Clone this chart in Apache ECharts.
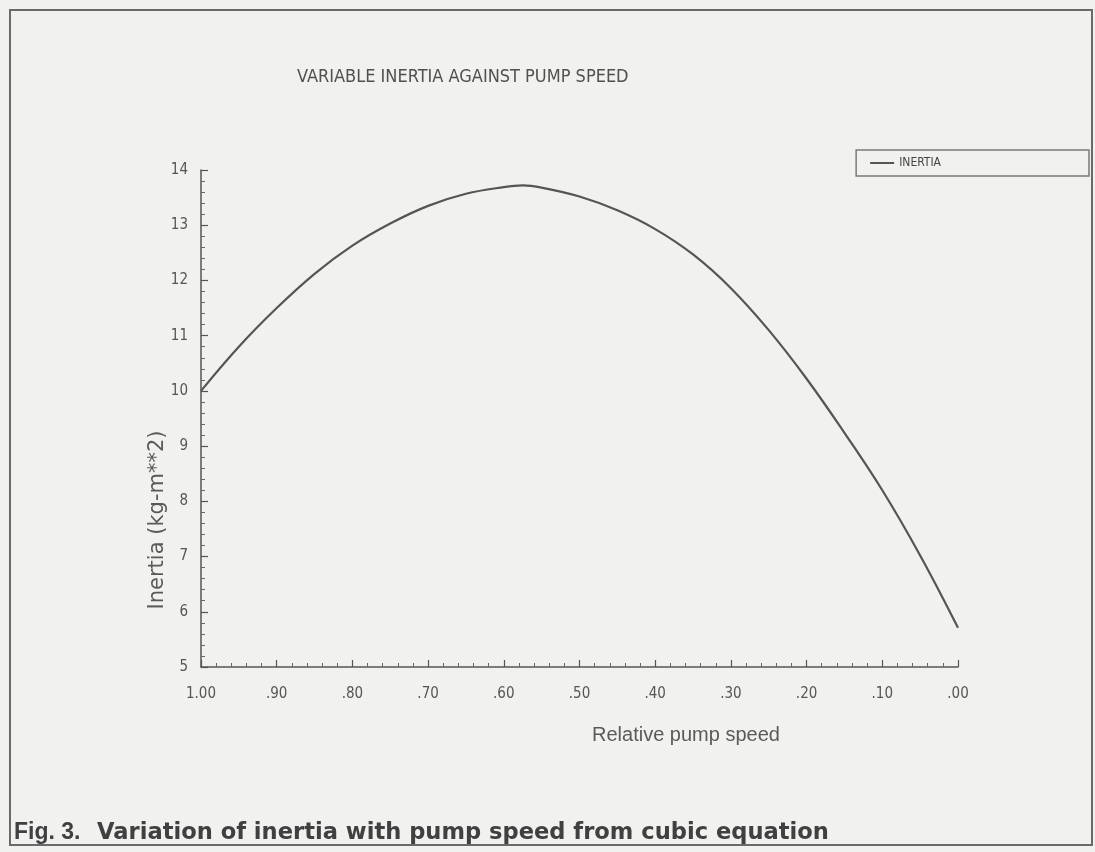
<!DOCTYPE html>
<html>
<head>
<meta charset="utf-8">
<script src="https://cdn.jsdelivr.net/npm/echarts@6/dist/echarts.min.js"></script>
<style>
  html, body { margin: 0; padding: 0; background: #f1f1ef; }
  #chart { width: 1095px; height: 852px; }
</style>
</head>
<body>
<div id="chart"></div>
<script>
// Relative pump speed (x) and inertia (kg-m**2)
const speed   = [1.00, 0.95, 0.90, 0.85, 0.80, 0.75, 0.70, 0.65, 0.60, 0.575, 0.55, 0.50, 0.45, 0.40, 0.35, 0.30, 0.25, 0.20, 0.15, 0.10, 0.05, 0.00];
const inertia = [10.00, 10.80, 11.50, 12.12, 12.63, 13.03, 13.35, 13.57, 13.69, 13.72, 13.68, 13.52, 13.27, 12.93, 12.47, 11.86, 11.10, 10.22, 9.24, 8.20, 7.02, 5.71];
const xTickLabels = {'1.00':'1.00','0.90':'.90','0.80':'.80','0.70':'.70','0.60':'.60','0.50':'.50','0.40':'.40','0.30':'.30','0.20':'.20','0.10':'.10','0.00':'.00'};
const yTicks = [5, 6, 7, 8, 9, 10, 11, 12, 13, 14];

const chart = echarts.init(document.getElementById('chart'));
const narrow = '"Liberation Sans Narrow", "DejaVu Sans Condensed", "Liberation Sans", sans-serif';

const seriesData = speed.map((s, i) => [s, inertia[i]]);

chart.setOption({
  backgroundColor: '#f1f1ef',
  animation: false,
  title: {
    text: 'VARIABLE INERTIA AGAINST PUMP SPEED',
    left: 292,
    top: 63,
    textStyle: { fontFamily: narrow, fontSize: 18, fontWeight: 'normal', color: '#505050' }
  },
  legend: {
    data: ['INERTIA'],
    right: 6,
    top: 150,
    orient: 'horizontal',
    itemWidth: 24,
    itemHeight: 2,
    itemGap: 4,
    icon: 'rect',
    padding: [7, 148, 7, 14],
    borderColor: '#7a7a7a',
    borderWidth: 1.5,
    borderRadius: 0,
    textStyle: { fontFamily: narrow, fontSize: 12, color: '#444' }
  },
  grid: { left: 201, right: 137, top: 170, bottom: 185, containLabel: false },
  xAxis: {
    type: 'value',
    inverse: true,
    min: 0,
    max: 1,
    interval: 0.1,
    axisLine: { show: true, onZero: false, lineStyle: { color: '#555', width: 1.5 } },
    axisTick: { show: true, inside: true, length: 7, lineStyle: { color: '#555', width: 1.2 } },
    minorTick: { show: true, splitNumber: 5, length: 4, lineStyle: { color: '#666', width: 1 } },
    splitLine: { show: false },
    axisLabel: {
      margin: 20,
      fontFamily: narrow,
      fontSize: 15,
      color: '#555',
      formatter: v => xTickLabels[v.toFixed(2)]
    }
  },
  yAxis: {
    type: 'value',
    position: 'left',
    min: yTicks[0],
    max: yTicks[yTicks.length - 1],
    interval: 1,
    axisLine: { show: true, onZero: false, lineStyle: { color: '#555', width: 1.5 } },
    axisTick: { show: true, inside: true, length: 7, lineStyle: { color: '#555', width: 1.2 } },
    minorTick: { show: true, splitNumber: 5, length: 4, lineStyle: { color: '#666', width: 1 } },
    splitLine: { show: false },
    axisLabel: { margin: 13, fontFamily: narrow, fontSize: 15, color: '#555' }
  },
  series: [{
    name: 'INERTIA',
    type: 'line',
    data: seriesData,
    smooth: 0.4,
    showSymbol: false,
    lineStyle: { color: '#555', width: 2.2 },
    itemStyle: { color: '#555' }
  }],
  graphic: [
    {
      type: 'rect',
      shape: { x: 10, y: 10, width: 1082, height: 835 },
      style: { fill: 'none', stroke: '#6a6a6a', lineWidth: 2 },
      silent: true
    },
    {
      type: 'text',
      x: 158, y: 520,
      rotation: Math.PI / 2,
      style: {
        text: 'Inertia (kg-m**2)',
        font: '21px "DejaVu Sans", sans-serif',
        fill: '#5a5a5a',
        align: 'center',
        verticalAlign: 'middle'
      },
      silent: true
    },
    {
      type: 'text',
      x: 686, y: 735,
      style: {
        text: 'Relative pump speed',
        font: '20px "Liberation Sans", sans-serif',
        fill: '#5a5a5a',
        align: 'center',
        verticalAlign: 'middle'
      },
      silent: true
    },
    {
      type: 'text',
      x: 14, y: 833,
      style: {
        text: 'Fig. 3.',
        font: 'bold 23px "Liberation Sans", Arial, sans-serif',
        fill: '#404040',
        align: 'left',
        verticalAlign: 'middle'
      },
      silent: true
    },
    {
      type: 'text',
      x: 97, y: 833,
      style: {
        text: 'Variation of inertia with pump speed from cubic equation',
        font: 'bold 22.6px "DejaVu Sans", sans-serif',
        fill: '#404040',
        align: 'left',
        verticalAlign: 'middle'
      },
      silent: true
    }
  ]
});
</script>
</body>
</html>
